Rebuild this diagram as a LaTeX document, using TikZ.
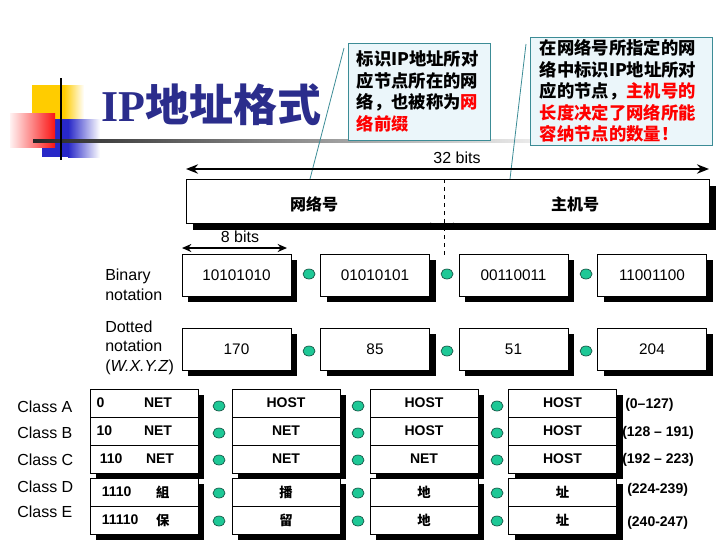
\documentclass[tikz,border=0pt]{standalone}
\usepackage{fontspec}
\setmainfont{Liberation Sans}
\newfontfamily\cjk{Noto Sans CJK SC}
\newfontfamily\titleserif{Liberation Serif}
\usepackage{xcolor}
\usepackage{tikz}
\usetikzlibrary{positioning,arrows.meta,shapes.geometric}

\definecolor{titleblue}{RGB}{43,45,140}
\definecolor{notefill}{RGB}{235,246,250}
\definecolor{noteline}{RGB}{60,140,150}
\definecolor{dotgreen}{RGB}{30,200,150}
\definecolor{dotline}{RGB}{20,80,65}
\definecolor{logoyellow}{RGB}{255,204,0}
\definecolor{logoblue}{RGB}{40,40,200}
\definecolor{logored}{RGB}{250,20,20}

\begin{document}
\begin{tikzpicture}[x=0.75pt, y=-0.75pt, >={Stealth[length=9pt,width=7pt]},
  every node/.style={align=center, inner sep=0pt},
  numbox/.style={draw, fill=white, line width=0.6pt,
    minimum width=\bw, minimum height=\bh, font=\fontsize{11.5}{13}\selectfont},
  cell/.style={draw, fill=white, line width=0.6pt,
    minimum width=\cw, minimum height=\ch, font=\bfseries\fontsize{10.5}{12}\selectfont},
  cjkcell/.style={cell, font=\cjk\bfseries\fontsize{10}{12}\selectfont},
  dot/.style={ellipse, draw=dotline, fill=dotgreen, line width=0.5pt,
    minimum width=9pt, minimum height=7.5pt},
  note/.style={draw=noteline, fill=notefill, line width=0.6pt, align=left,
    inner xsep=6pt, font=\cjk\bfseries\fontsize{13}{16.1}\selectfont},
  lbl/.style={anchor=west, align=left, font=\fontsize{12}{15}\selectfont},
  rangelbl/.style={anchor=west, font=\bfseries\fontsize{10.5}{12}\selectfont},
  boxshadow/.style={fill=black}]
  \def\bw{81.75pt}
  \def\bh{31.5pt}
  \def\cw{81pt}
  \def\ch{21pt}

  \useasboundingbox (0,0) rectangle (720,540);

  % logo
  \fill[logoyellow] (32,85) rectangle (64,119);
  \shade[left color=logoyellow, right color=white] (64,85) rectangle (84,119);
  \fill[logoblue] (42,119) rectangle (68,157);
  \shade[left color=logoblue, right color=white] (68,119) rectangle (100,157);
  \shade[left color=red!5, right color=logored] (10,113) rectangle (55,147);
  \shade[left color=black!85, right color=black!8] (33,139.5) rectangle (530,142.5);
  \draw[line width=2pt] (61,78) -- (61,160);

  \node[font=\cjk\bfseries\fontsize{33}{33}\selectfont, text=titleblue] (title)
      at (211,105) {{\titleserif IP}地址格式};

  % callouts
  \coordinate (n1a) at (344,48);
  \coordinate (n1b) at (310,179);
  \coordinate (n2a) at (526,44);
  \coordinate (n2b) at (510,179);
  \draw[noteline, line width=0.6pt] (n1a) -- (n1b);
  \draw[noteline, line width=0.6pt] (n2a) -- (n2b);

  \node[note, text width=93.5pt, minimum width=106.5pt, minimum height=72.75pt] (note1)
      at (419,91.5) {标识IP地址所对\\应节点所在的网\\络，也被称为\textcolor{red}{网}\\\textcolor{red}{络前缀}};
  \node[note, text width=122pt, minimum width=136.5pt, minimum height=81pt] (note2)
      at (621,91) {在网络号所指定的网\\络中标识IP地址所对\\应的节点，\textcolor{red}{主机号的}\\\textcolor{red}{长度决定了网络所能}\\\textcolor{red}{容纳节点的数量！}};

  % 32 bits
  \coordinate (w32l) at (186,169);
  \coordinate (w32r) at (709,169);
  \draw[<->, line width=1.5pt] (w32l) -- (w32r);
  \node[font=\fontsize{12}{14}\selectfont] (bits32) at (457,158) {32 bits};

  % shadows, drawn first
  \fill[boxshadow] (193,186) rectangle (716,230);
  \foreach \cx in {236.5,375,513.5,652}{
    \fill[boxshadow] ({\cx-48.5},260) rectangle ({\cx+60.5},302);
    \fill[boxshadow] ({\cx-48.5},334) rectangle ({\cx+60.5},376);
  }
  \foreach \cx in {144,286,424,562.5}{
    \fill[boxshadow] ({\cx-48},395) rectangle ({\cx+60},479);
    \fill[boxshadow] ({\cx-48},484) rectangle ({\cx+60},540);
  }

  \node[draw, fill=white, line width=0.6pt, minimum width=392.25pt, minimum height=33pt] (netbox)
      at (447.5,201) {};
  \node[font=\cjk\bfseries\fontsize{12}{14}\selectfont] (netid) at (314,204) {网络号};
  \node[font=\cjk\bfseries\fontsize{12}{14}\selectfont] (hostid) at (575,204) {主机号};

  \coordinate (divtop) at (444,179);
  \coordinate (divbot) at (444,256);
  \draw[dashed, line width=0.6pt] (divtop) -- (divbot);
  \coordinate (divl) at (423,226);
  \coordinate (divr) at (461,226);
  \draw[<->, line width=1.2pt, >={Stealth[length=6pt,width=5pt]}] (divl) -- (divr);

  % 8 bits
  \coordinate (w8l) at (182,248);
  \coordinate (w8r) at (287,248);
  \draw[<->, line width=1.5pt, >={Stealth[length=7pt,width=6pt]}] (w8l) -- (w8r);
  \node[font=\fontsize{12}{14}\selectfont] (bits8) at (240,237) {8 bits};

  % notations
  \node[lbl] (binlbl) at (105,285) {Binary\\notation};
  \node[lbl, font=\fontsize{12}{14.6}\selectfont] (dotlbl) at (105,347.5) {Dotted\\notation\\(\textit{W.X.Y.Z})};

  \node[numbox] (bin1) at (236.5,275) {10101010};
  \node[numbox] (bin2) at (375,275) {01010101};
  \node[numbox] (bin3) at (513.5,275) {00110011};
  \node[numbox] (bin4) at (652,275) {11001100};

  \node[numbox] (dec1) at (236.5,349) {170};
  \node[numbox] (dec2) at (375,349) {85};
  \node[numbox] (dec3) at (513.5,349) {51};
  \node[numbox] (dec4) at (652,349) {204};

  \foreach \i/\dx in {1/309,2/447,3/586}{
    \node[dot] (bd\i) at (\dx,274) {};
    \node[dot] (dd\i) at (\dx,351) {};
  }

  % classes
  \node[lbl] (clsa) at (17,407) {Class A};
  \node[lbl] (clsb) at (17,433) {Class B};
  \node[lbl] (clsc) at (17,460) {Class C};
  \node[lbl] (clsd) at (17,487) {Class D};
  \node[lbl] (clse) at (17,512) {Class E};

  \node[cell] (a1) at (144,403) {};
  \node[cell] (b1) at (144,431) {};
  \node[cell] (c1) at (144,459) {};
  \node[cell] (d1) at (144,492) {};
  \node[cell] (e1) at (144,520) {};
  \node[anchor=west, font=\bfseries\fontsize{10.5}{12}\selectfont] at ([xshift=5pt]a1.west) {0};
  \node[anchor=west, font=\bfseries\fontsize{10.5}{12}\selectfont] at ([xshift=5pt]b1.west) {10};
  \node[anchor=west, font=\bfseries\fontsize{10.5}{12}\selectfont] at ([xshift=7.5pt]c1.west) {110};
  \node[anchor=west, font=\bfseries\fontsize{10.5}{12}\selectfont] at ([xshift=9pt]d1.west) {1110};
  \node[anchor=west, font=\bfseries\fontsize{10.5}{12}\selectfont] at ([xshift=9pt]e1.west) {11110};
  \node[font=\bfseries\fontsize{10.5}{12}\selectfont] at ([xshift=10.5pt]a1.center) {NET};
  \node[font=\bfseries\fontsize{10.5}{12}\selectfont] at ([xshift=10.5pt]b1.center) {NET};
  \node[font=\bfseries\fontsize{10.5}{12}\selectfont] at ([xshift=12pt]c1.center) {NET};
  \node[font=\cjk\bfseries\fontsize{10}{12}\selectfont] at ([xshift=14pt]d1.center) {組};
  \node[font=\cjk\bfseries\fontsize{10}{12}\selectfont] at ([xshift=14pt]e1.center) {保};

  \node[cell] (a2) at (286,403) {HOST};
  \node[cell] (b2) at (286,431) {NET};
  \node[cell] (c2) at (286,459) {NET};
  \node[cjkcell] (d2) at (286,492) {播};
  \node[cjkcell] (e2) at (286,520) {留};

  \node[cell] (a3) at (424,403) {HOST};
  \node[cell] (b3) at (424,431) {HOST};
  \node[cell] (c3) at (424,459) {NET};
  \node[cjkcell] (d3) at (424,492) {地};
  \node[cjkcell] (e3) at (424,520) {地};

  \node[cell] (a4) at (562.5,403) {HOST};
  \node[cell] (b4) at (562.5,431) {HOST};
  \node[cell] (c4) at (562.5,459) {HOST};
  \node[cjkcell] (d4) at (562.5,492) {址};
  \node[cjkcell] (e4) at (562.5,520) {址};

  \foreach \r/\dy in {a/406,b/433,c/460,d/493,e/521}{
    \foreach \j/\dx in {1/219,2/358,3/497}{
      \node[dot] (\r d\j) at (\dx,\dy) {};
    }
  }

  \node[rangelbl] (ra) at (625,405) {(0--127)};
  \node[rangelbl] (rb) at (622,433) {(128 -- 191)};
  \node[rangelbl] (rc) at (622,460) {(192 -- 223)};
  \node[rangelbl] (rd) at (627,490) {(224-239)};
  \node[rangelbl] (re) at (627,523) {(240-247)};
\end{tikzpicture}
\end{document}
